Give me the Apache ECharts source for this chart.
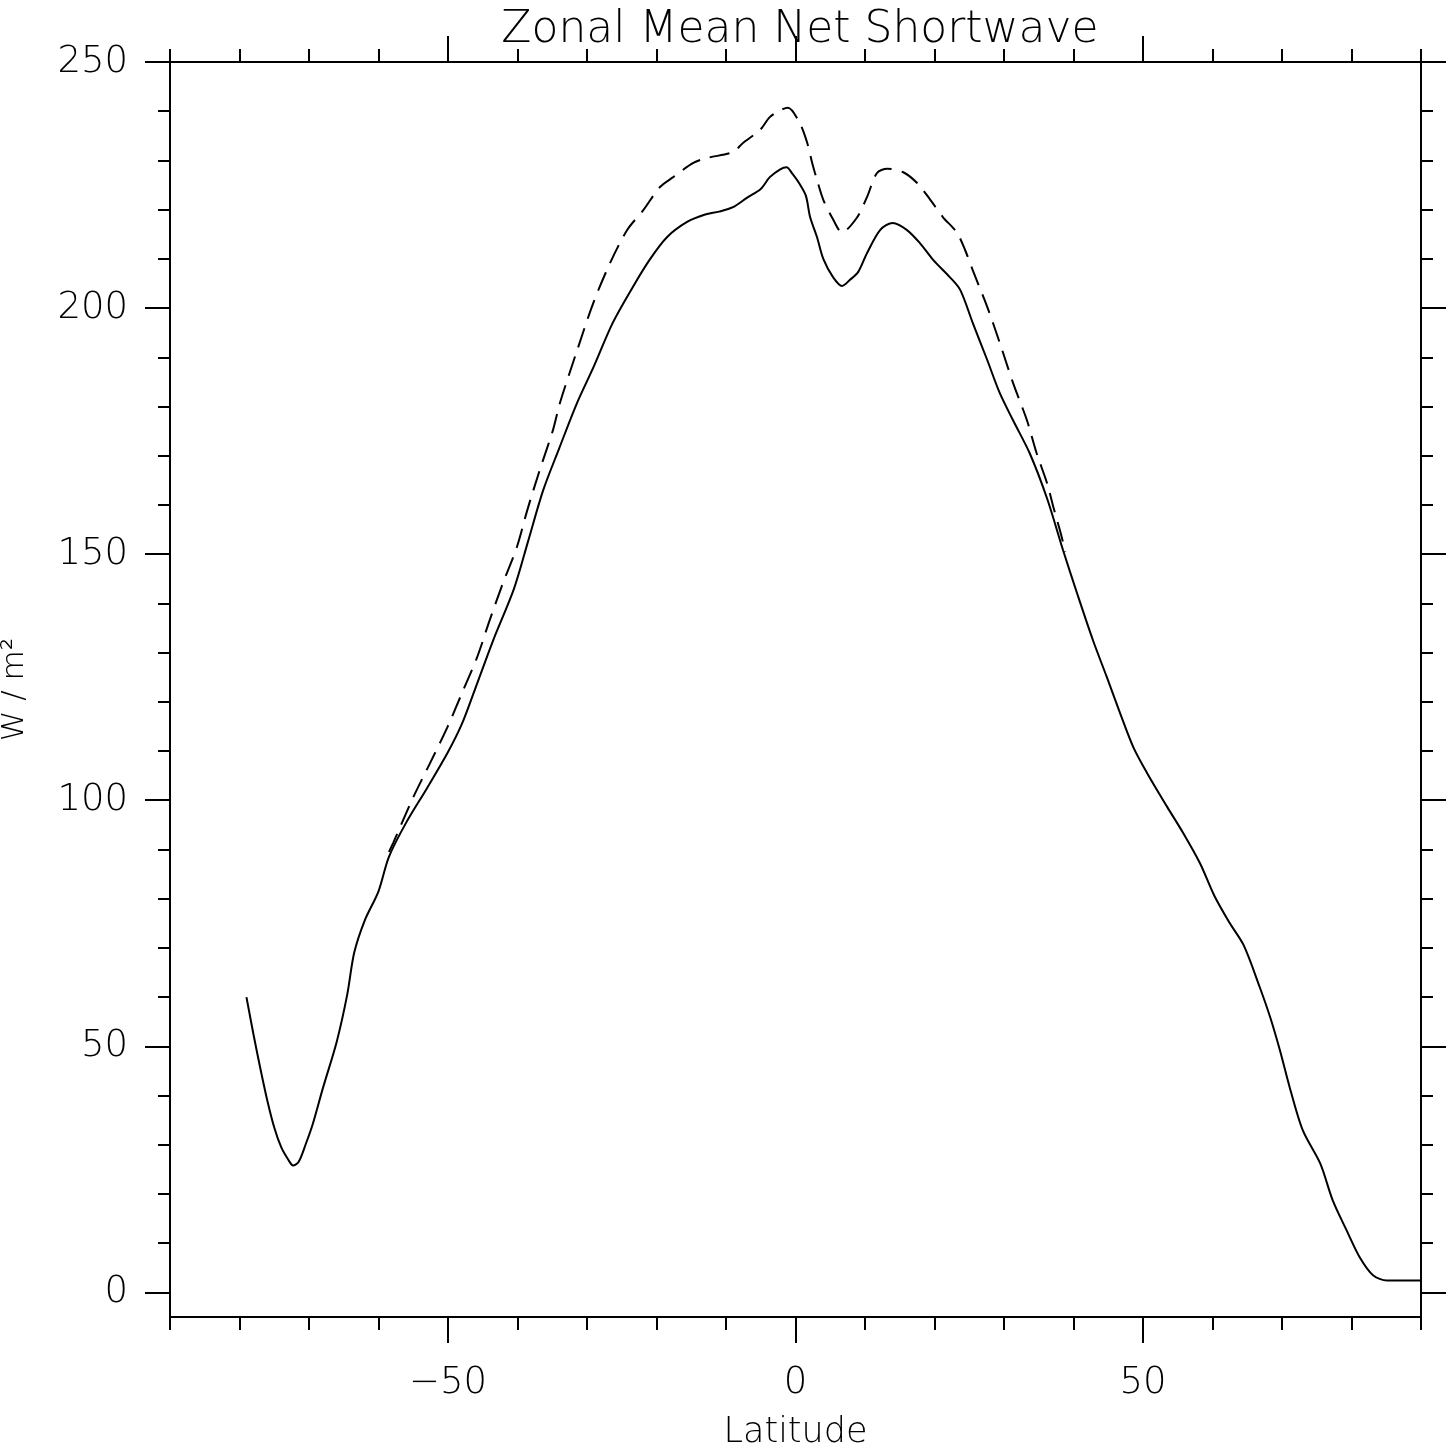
<!DOCTYPE html>
<html>
<head>
<meta charset="utf-8">
<title>Zonal Mean Net Shortwave</title>
<script src="https://cdn.jsdelivr.net/npm/echarts@6/dist/echarts.min.js"></script>
<style>
  html, body { margin: 0; padding: 0; background: #fff; }
  #chart { width: 1450px; height: 1449px; }
</style>
</head>
<body>
<div id="chart"></div>
<script>
// Net shortwave, first run (solid): latitude (deg) and W/m^2
const solidLat = [
  -79, -78, -77, -76, -75, -74, -73, -72.3, -71.5, -70.5, -69.5, -68, -66, -64.5, -63.5, -62, -60,
  -58.5, -56, -53, -50, -48, -46, -43.5, -40.5, -38.5, -36.3, -34, -31.5, -29, -26.3, -23.4, -21,
  -18.5, -15.6, -13, -11, -9, -7, -5, -3.7, -2.2, -1.3, -0.4, 0.6, 1.5, 2.1, 3.1, 4.0, 5.4, 6.7,
  7.8, 9.0, 10.3, 12.2, 14.0, 16.0, 17.9, 19.8, 22.2, 23.7, 25.5, 27.6, 29.4, 31.3, 33.7, 36.2,
  38.5, 40.5, 42.8, 44.8, 46.7, 48.6, 50.6, 53.5, 55.8, 58.2, 60.3, 62.5, 64.5, 66.8, 68.3, 69.7,
  71.1, 73, 75.5, 77.3, 79.3, 81.2, 83.1, 85.1, 87, 90
];
const solidSW = [
  60, 52.5, 45.5, 39, 33.5, 29.5, 27, 25.8, 26.5, 30, 34, 41.5, 51, 60.5, 69, 75.5, 81.5,
  88.5, 95.5, 102.5, 109.8, 115.5, 123, 132.5, 143, 152.5, 163, 171.5, 180.5, 188.2, 197, 204.3, 209.8,
  214.4, 217.5, 219, 219.6, 220.5, 222.4, 224.2, 226.6, 228.2, 228.6, 227.2, 225.2, 222.8, 218.5, 214.4, 210, 206.3, 204.5,
  205.7, 207.3, 211.2, 215.9, 217.3, 215.9, 213.2, 209.8, 206.3, 203.7, 197, 189.4, 182.7, 177.2, 170.5, 161.3,
  150.8, 142.1, 132.5, 125, 117.7, 110.8, 105.5, 98.6, 93.3, 87.2, 80.5, 75, 70.5, 62, 55.9, 49.2,
  41.7, 32.9, 26.2, 18.7, 12.6, 7.1, 3.5, 2.4, 2.4, 2.4
];

// Net shortwave, second run (dashed)
const dashedLat = [
  -58.5, -57.9, -55, -52.6, -50.1, -47.8, -45.8, -44, -42.1, -40.1, -38.6, -36.8, -34.9, -33.9,
  -31.4, -29.1, -26.7, -24.2, -21.9, -19.5, -17.6, -14.7, -12.7, -9, -7.6, -5.1, -3.7, -2.2, -1.1,
  0.6, 1.7, 2.4, 3.1, 4, 5.3, 6.7, 8.8, 10.3, 11.7, 13.2, 15.5, 17.5, 19.4, 21.2, 23.2, 24.4,
  25.5, 27.6, 29.4, 31.3, 33.3, 34.7, 36.2, 37.1, 38.3, 38.8
];
const dashedSW = [
  89.5, 91.3, 100.6, 107.5, 114.8, 122.4, 129.1, 136.6, 144.1, 151.4, 158.9, 167.1, 175.2, 180.7,
  191.5, 201, 209.1, 215.9, 219.9, 224.6, 226.6, 229.5, 230.5, 231.7, 233.5, 236.2, 238.8, 240.2, 240.7,
  237.6, 233.5, 229.5, 226, 222, 218.3, 215.4, 218.3, 222.6, 227.4, 228.3, 227.6, 225.4, 222, 218.5, 215.4, 211.8,
  207.7, 200.2, 192.9, 184.8, 177.2, 170.5, 164.4, 159.6, 153.5, 150.5
];

// Axis ticks and labels
const latMajorTicks = [-50, 0, 50];
const swMajorTicks = [0, 50, 100, 150, 200, 250];
const latMinorTicks = [];
for (let v = -90; v <= 90; v += 10) latMinorTicks.push(v);
const swMinorTicks = [];
for (let v = 0; v <= 250; v += 10) swMinorTicks.push(v);

const FONT = '"DejaVu Sans", sans-serif';
const INK = '#000';
const lineStyle = { color: INK, width: 2 };
const hiddenLine = { show: false, onZero: false };

function xAxisDef(pos, ticks, len, opts) {
  return Object.assign({
    type: 'value', gridIndex: 0, position: pos, min: -90, max: 90,
    axisLine: { show: true, onZero: false, lineStyle: lineStyle },
    axisTick: { show: true, inside: false, length: len, customValues: ticks, lineStyle: lineStyle },
    axisLabel: { show: false },
    splitLine: { show: false }
  }, opts || {});
}
function yAxisDef(pos, ticks, len, opts) {
  return Object.assign({
    type: 'value', gridIndex: 0, position: pos, min: -5, max: 250,
    axisLine: { show: true, onZero: false, lineStyle: lineStyle },
    axisTick: { show: true, inside: false, length: len, customValues: ticks, lineStyle: lineStyle },
    axisLabel: { show: false },
    splitLine: { show: false }
  }, opts || {});
}

const chart = echarts.init(document.getElementById('chart'), null, { renderer: 'canvas' });

chart.setOption({
  animation: false,
  backgroundColor: '#fff',
  title: {
    text: 'Zonal Mean Net Shortwave',
    left: 795, top: 4, textAlign: 'center',
    textStyle: { fontFamily: FONT, fontWeight: 200, fontSize: 44, color: INK }
  },
  grid: {
    left: 170, right: 29, top: 62, bottom: 132,
    containLabel: false, outerBoundsMode: 'none'
  },
  xAxis: [
    xAxisDef('bottom', latMinorTicks, 13),
    xAxisDef('bottom', latMajorTicks, 26, {
      axisLine: hiddenLine,
      axisLabel: {
        show: true, customValues: latMajorTicks, margin: 48,
        fontFamily: FONT, fontWeight: 200, fontSize: 37, color: INK,
        formatter: v => (v < 0 ? '\u2212' + Math.abs(v) : String(v))
      },
      name: 'Latitude', nameLocation: 'middle', nameGap: 98,
      nameTextStyle: { fontFamily: FONT, fontWeight: 200, fontSize: 35, color: INK }
    }),
    xAxisDef('top', latMinorTicks, 13),
    xAxisDef('top', latMajorTicks, 26, { axisLine: hiddenLine })
  ],
  yAxis: [
    yAxisDef('left', swMinorTicks, 12),
    yAxisDef('left', swMajorTicks, 25, {
      axisLine: hiddenLine,
      axisLabel: {
        show: true, customValues: swMajorTicks, margin: 42,
        fontFamily: FONT, fontWeight: 200, fontSize: 37, color: INK
      },
      name: 'W / m\u00b2', nameLocation: 'middle', nameGap: 140, nameRotate: 90,
      nameTextStyle: { fontFamily: FONT, fontWeight: 200, fontSize: 31, color: INK }
    }),
    yAxisDef('right', swMinorTicks, 12),
    yAxisDef('right', swMajorTicks, 25, { axisLine: hiddenLine })
  ],
  series: [
    {
      name: 'solid', type: 'line', xAxisIndex: 0, yAxisIndex: 0,
      data: solidLat.map((lat, i) => [lat, solidSW[i]]),
      showSymbol: false, smooth: 0.3,
      lineStyle: { color: INK, width: 2, type: 'solid' }
    },
    {
      name: 'dashed', type: 'line', xAxisIndex: 0, yAxisIndex: 0,
      data: dashedLat.map((lat, i) => [lat, dashedSW[i]]),
      showSymbol: false, smooth: 0.3,
      lineStyle: { color: INK, width: 2, type: [20, 10] }
    }
  ]
});
</script>
</body>
</html>
